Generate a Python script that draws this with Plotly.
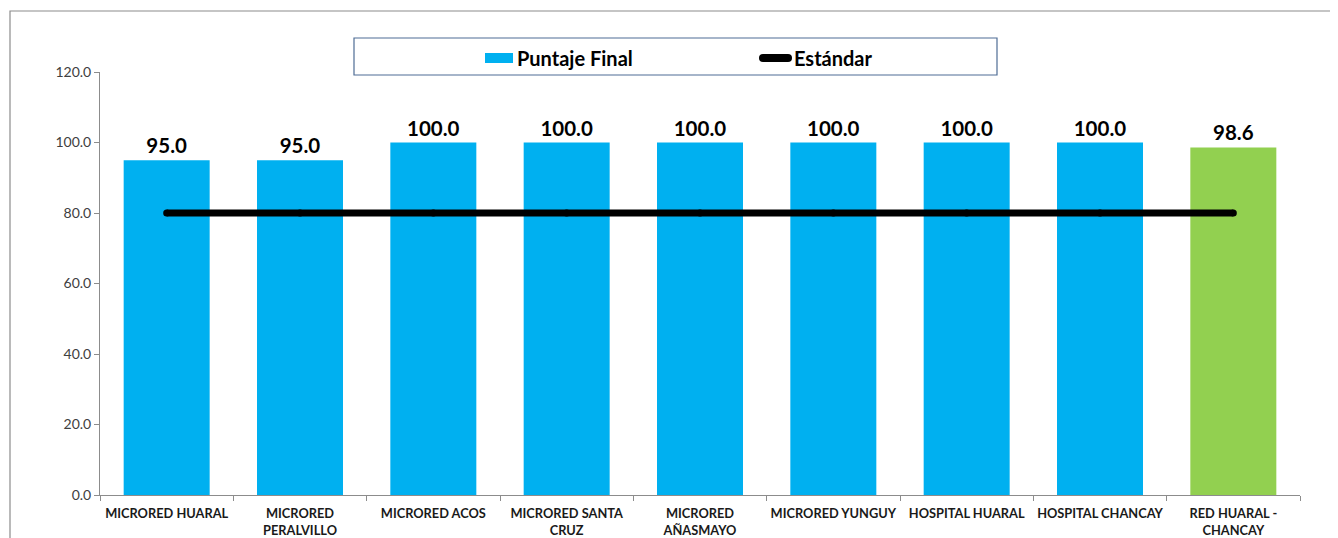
import plotly.graph_objects as go

categories = ["MICRORED HUARAL", "MICRORED<br>PERALVILLO", "MICRORED ACOS", "MICRORED SANTA<br>CRUZ",
              "MICRORED<br>AÑASMAYO", "MICRORED YUNGUY", "HOSPITAL HUARAL", "HOSPITAL CHANCAY",
              "RED HUARAL -<br>CHANCAY"]
puntaje = [95.0, 95.0, 100.0, 100.0, 100.0, 100.0, 100.0, 100.0, 98.6]
estandar = [80, 80, 80, 80, 80, 80, 80, 80, 80]
bar_colors = ["#00B0F0"] * 8 + ["#92D050"]
series_names = ["Puntaje Final", "Estándar"]

FONT = "Lato, 'Open Sans', sans-serif"

# plot area in reference pixels (page has 8px body offset; paper coords are relative)
PX0, PX1, PY0, PY1 = 100, 1300, 72, 495
W, H = PX1 - PX0, PY1 - PY0


def px(x):
    return (x - PX0) / W


def py(y):
    return (PY1 - y) / H


fig = go.Figure()
fig.add_trace(go.Bar(
    x=categories, y=puntaje, name=series_names[0],
    marker=dict(color=bar_colors, line=dict(width=0)),
    text=[f"{v:.1f}" for v in puntaje], textposition="outside",
    textfont=dict(size=20.5, color="#000000", family=FONT),
    texttemplate="<b>%{text}</b>", cliponaxis=False, showlegend=False,
))
fig.add_trace(go.Scatter(
    x=categories, y=estandar, name=series_names[1], mode="lines+markers",
    line=dict(color="#000000", width=7), marker=dict(color="#000000", size=7),
    showlegend=False,
))

shapes = [
    dict(type="rect", xref="paper", yref="paper", x0=px(10), x1=px(1350), y0=py(550), y1=py(11),
         line=dict(color="#8C8C8C", width=1.2), fillcolor="rgba(0,0,0,0)", layer="below"),
    dict(type="rect", xref="paper", yref="paper", x0=px(354), x1=px(997), y0=py(75), y1=py(38),
         line=dict(color="#4F6D95", width=1.2), fillcolor="rgba(0,0,0,0)"),
    # legend symbols
    dict(type="rect", xref="paper", yref="paper", x0=px(485), x1=px(513), y0=py(63), y1=py(53),
         line=dict(width=0), fillcolor="#00B0F0"),
    dict(type="line", xref="paper", yref="paper", x0=px(763), x1=px(788), y0=py(58), y1=py(58),
         line=dict(color="#000000", width=8)),
    dict(type="circle", xref="paper", yref="paper", x0=px(759), x1=px(767), y0=py(62), y1=py(54),
         line=dict(width=0), fillcolor="#000000"),
    dict(type="circle", xref="paper", yref="paper", x0=px(784), x1=px(792), y0=py(62), y1=py(54),
         line=dict(width=0), fillcolor="#000000"),
]
annotations = [
    dict(xref="paper", yref="paper", x=px(515), y=py(58), xanchor="left", yanchor="middle",
         text=f"<b>{series_names[0]}</b>", showarrow=False, font=dict(size=20, family=FONT, color="#000000")),
    dict(xref="paper", yref="paper", x=px(792), y=py(58), xanchor="left", yanchor="middle",
         text=f"<b>{series_names[1]}</b>", showarrow=False, font=dict(size=20, family=FONT, color="#000000")),
]

fig.update_layout(
    width=1338, height=538,
    margin=dict(l=92, r=46, t=64, b=51, autoexpand=False),
    paper_bgcolor="white", plot_bgcolor="white",
    font=dict(family=FONT, size=12, color="#000000"),
    bargap=0.355,
    showlegend=False,
    shapes=shapes, annotations=annotations,
)
fig.update_yaxes(range=[0, 120], dtick=20, tickformat=".1f", showgrid=False, zeroline=False,
                 showline=True, linecolor="#8C8C8C", linewidth=1, ticks="outside", ticklen=5,
                 tickcolor="#8C8C8C", tickfont=dict(size=14, color="#404040"), automargin=False)
fig.update_xaxes(showgrid=False, showline=True, linecolor="#8C8C8C", linewidth=1,
                 ticks="outside", ticklen=5, tickcolor="#8C8C8C", tickson="boundaries",
                 tickfont=dict(size=12.8, color="#1A1A1A"), tickangle=0, automargin=False,
                 ticklabelstandoff=7,
                 tickprefix="<b>", ticksuffix="</b>")

fig.write_html("out.html")
